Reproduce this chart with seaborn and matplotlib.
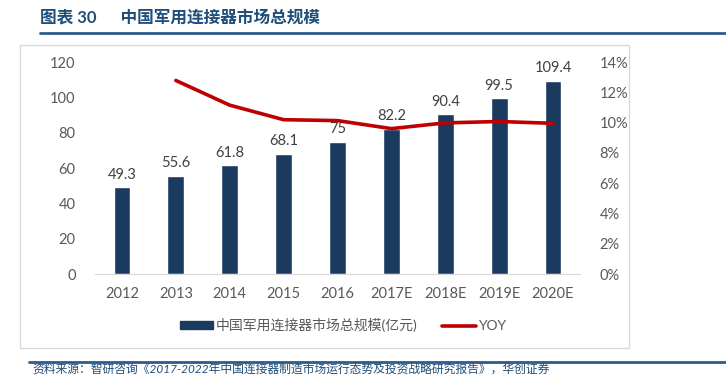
"""
China military connector market size (bar) with YOY growth (line).
"""

import numpy as np
import pandas as pd
import matplotlib
matplotlib.use('Agg')
import matplotlib.pyplot as plt
import matplotlib.patches as mpatches
import matplotlib.lines as mlines
import seaborn as sns

# Data
years = ['2012', '2013', '2014', '2015', '2016', '2017E', '2018E', '2019E', '2020E']
market_size = [49.3, 55.6, 61.8, 68.1, 75, 82.2, 90.4, 99.5, 109.4]
size_labels = ['49.3', '55.6', '61.8', '68.1', '75', '82.2', '90.4', '99.5', '109.4']
yoy = [None, 0.1278, 0.1115, 0.1019, 0.1013, 0.0960, 0.0998, 0.1007, 0.0995]

left_ticks = [0, 20, 40, 60, 80, 100, 120]
right_ticks = [0, 0.02, 0.04, 0.06, 0.08, 0.10, 0.12, 0.14]

BAR_COLOR = '#1B3A5F'
LINE_COLOR = '#C00000'
TEXT_GRAY = '#595959'
TITLE_BLUE = '#1F4E79'

sns.set_style('white')
plt.rcParams['font.family'] = ['Lato', 'Noto Sans CJK SC', 'DejaVu Sans']

df = pd.DataFrame({'year': years, 'size': market_size, 'yoy': yoy})
df['pos'] = np.arange(len(df))

fig = plt.figure(figsize=(7.26, 3.75), dpi=100)

# chart frame
frame = mpatches.Rectangle((20 / 726, 1 - 348 / 375), 609 / 726, 303 / 375,
                           transform=fig.transFigure, fill=False,
                           edgecolor='#D9D9D9', linewidth=1)
fig.patches.append(frame)

ax = fig.add_axes([95 / 726, 1 - 274 / 375, 485 / 726, 212 / 375])
sns.barplot(data=df, x='pos', y='size', color=BAR_COLOR, width=0.31,
            saturation=1, ax=ax)
ax.set_ylim(0, 120)
ax.set_yticks(left_ticks)
ax.set_yticklabels([str(t) for t in left_ticks])
ax.set_xticks(df['pos'])
ax.set_xticklabels(years)
ax.set_xlim(-0.5, len(years) - 0.5)
ax.set_xlabel('')
ax.set_ylabel('')
for s in ['top', 'right', 'left']:
    ax.spines[s].set_visible(False)
ax.spines['bottom'].set_color('#D9D9D9')
ax.tick_params(axis='both', length=0, labelsize=10.5, colors=TEXT_GRAY, pad=9)
ax.tick_params(axis='y', pad=14)

for p, v, lab in zip(df['pos'], df['size'], size_labels):
    ax.text(p, v + 3, lab, ha='center', va='bottom', fontsize=10.5,
            color='#404040')

ax2 = ax.twinx()
line_df = df.dropna(subset=['yoy'])
sns.lineplot(data=line_df, x='pos', y='yoy', color=LINE_COLOR, linewidth=2.6,
             ax=ax2)
ax2.set_ylim(0, 0.14)
ax2.set_yticks(right_ticks)
ax2.set_yticklabels([f'{int(round(t * 100))}%' for t in right_ticks])
ax2.set_ylabel('')
ax2.set_xlim(-0.5, len(years) - 0.5)
for s in ['top', 'right', 'left', 'bottom']:
    ax2.spines[s].set_visible(False)
ax2.tick_params(axis='y', length=0, labelsize=10.5, colors=TEXT_GRAY, pad=14)

# legend
bar_handle = mpatches.Patch(color=BAR_COLOR, label='中国军用连接器市场总规模(亿元)')
line_handle = mlines.Line2D([], [], color=LINE_COLOR, linewidth=2.6, label='YOY')
fig.legend(handles=[bar_handle, line_handle], loc='center',
           bbox_to_anchor=(343 / 726, 1 - 325 / 375), ncol=2, frameon=False,
           fontsize=10, labelcolor=TEXT_GRAY, handlelength=2.4,
           handleheight=0.5, handletextpad=0.2, columnspacing=1.8)

# title and rule
fig.text(40 / 726, 1 - 18 / 375, '图表 30      中国军用连接器市场总规模',
         ha='left', va='center', fontsize=12, fontweight='bold',
         color=TITLE_BLUE)
fig.add_artist(mlines.Line2D([40 / 726, 1], [1 - 33 / 375, 1 - 33 / 375],
                             transform=fig.transFigure, color='#2E5C8A',
                             linewidth=2))

# footer rule and source
fig.add_artist(mlines.Line2D([29 / 726, 1], [1 - 362 / 375, 1 - 362 / 375],
                             transform=fig.transFigure, color='#2E5C8A',
                             linewidth=2))
fig.text(32 / 726, 1 - 369 / 375,
         '资料来源：智研咨询《2017-2022年中国连接器制造市场运行态势及投资战略研究报告》，华创证券',
         ha='left', va='center', fontsize=8.5, style='italic', color=TITLE_BLUE)

fig.savefig('out.png', dpi=100)
plt.close(fig)
